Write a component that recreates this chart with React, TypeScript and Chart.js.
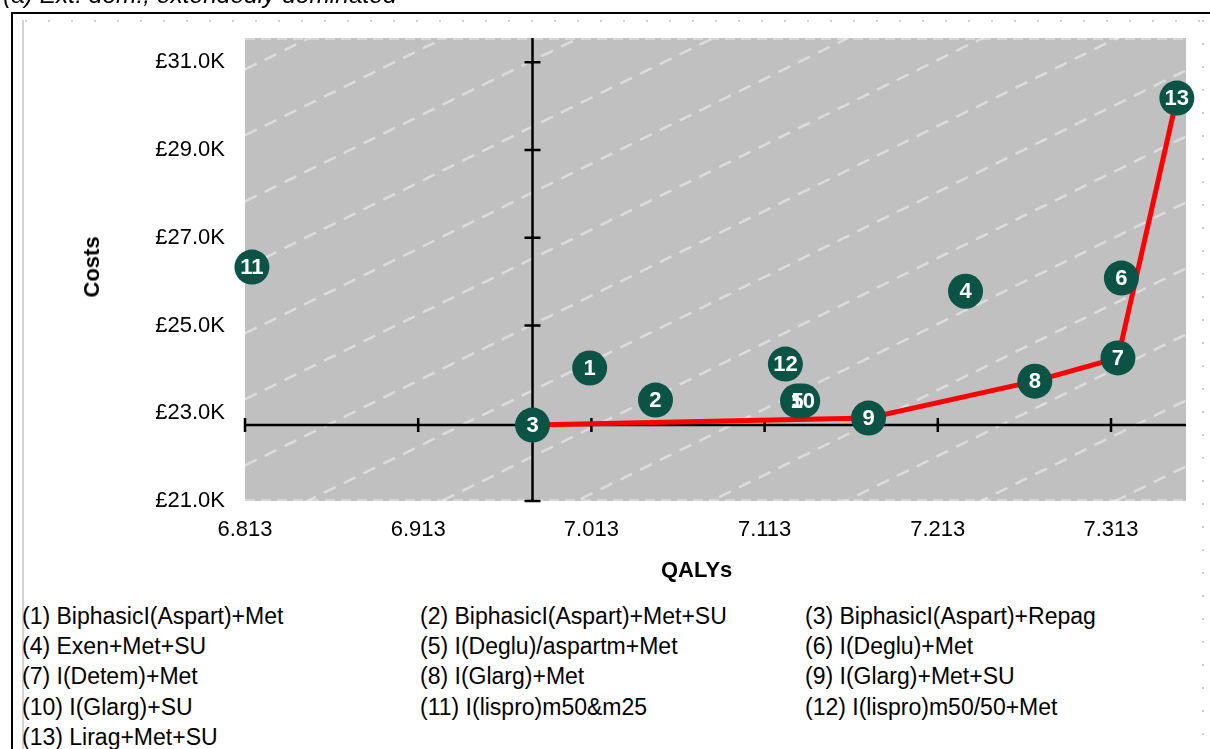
import React, { useEffect, useRef } from "react";
import { Chart, registerables } from "chart.js";

Chart.register(...registerables);

// ---- data ----
const pointLabels = ["1", "2", "3", "4", "5", "6", "7", "8", "9", "10", "11", "12", "13"];
const qalys = [7.012, 7.050, 6.979, 7.229, 7.132, 7.319, 7.317, 7.269, 7.173, 7.135, 6.817, 7.125, 7.351];
const costs = [24030, 23300, 22730, 25780, 23280, 26080, 24260, 23730, 22890, 23280, 26330, 24120, 30180];
const frontierIds = [3, 9, 8, 7, 13];
const xTickValues = [6.813, 6.913, 7.013, 7.113, 7.213, 7.313];
const yTickValues = [21000, 23000, 25000, 27000, 29000, 31000];
const xMin = 6.813;
const xMax = 7.3563;
const yMin = 21000;
const yMax = 31550;
const crossQaly = 6.979;
const crossCost = 22730;
const strategyNames = [
  "BiphasicI(Aspart)+Met",
  "BiphasicI(Aspart)+Met+SU",
  "BiphasicI(Aspart)+Repag",
  "Exen+Met+SU",
  "I(Deglu)/aspartm+Met",
  "I(Deglu)+Met",
  "I(Detem)+Met",
  "I(Glarg)+Met",
  "I(Glarg)+Met+SU",
  "I(Glarg)+SU",
  "I(lispro)m50&m25",
  "I(lispro)m50/50+Met",
  "Lirag+Met+SU",
];
const titleText = "(a) Ext. dom., extendedly dominated";
const xTitle = "QALYs";
const yTitle = "Costs";

const FONT = "'Liberation Sans', Arial, Helvetica, sans-serif";
const GREEN = "#0b5345";

const backgroundPlugin = {
  id: "hatchBackground",
  beforeDraw(chart: any) {
    const { ctx, chartArea: a } = chart;
    ctx.save();
    ctx.fillStyle = "#c0c0c0";
    ctx.fillRect(a.left, a.top, a.right - a.left, a.bottom - a.top);
    ctx.beginPath();
    ctx.rect(a.left, a.top, a.right - a.left, a.bottom - a.top);
    ctx.clip();
    ctx.strokeStyle = "rgba(255,255,255,0.45)";
    ctx.lineWidth = 2.5;
    ctx.setLineDash([13, 9]);
    const slope = 0.49;
    const spacing = 66;
    const ax = 250;
    const ay = 463;
    for (let k = -15; k < 25; k++) {
      const y0 = ay + spacing * k;
      ctx.beginPath();
      ctx.moveTo(a.left, y0 - slope * (a.left - ax));
      ctx.lineTo(a.right, y0 - slope * (a.right - ax));
      ctx.stroke();
    }
    ctx.restore();
    ctx.save();
    ctx.strokeStyle = "rgba(255,255,255,0.35)";
    ctx.lineWidth = 2;
    ctx.setLineDash([10, 6]);
    ctx.beginPath();
    ctx.moveTo(a.left, a.top + 1);
    ctx.lineTo(a.right, a.top + 1);
    ctx.moveTo(a.left, a.bottom - 1);
    ctx.lineTo(a.right, a.bottom - 1);
    ctx.stroke();
    ctx.restore();
  },
};

const crossAxesPlugin = {
  id: "crossAxes",
  beforeDatasetsDraw(chart: any) {
    const { ctx, chartArea: a, scales } = chart;
    const xs = scales.x;
    const ys = scales.y;
    const cx = xs.getPixelForValue(crossQaly);
    const cy = ys.getPixelForValue(crossCost);
    ctx.save();
    ctx.strokeStyle = "#000";
    ctx.lineWidth = 2.5;
    ctx.beginPath();
    ctx.moveTo(a.left, cy);
    ctx.lineTo(a.right, cy);
    ctx.moveTo(cx, a.top);
    ctx.lineTo(cx, a.bottom);
    xTickValues.forEach((v) => {
      const px = xs.getPixelForValue(v);
      ctx.moveTo(px, cy - 7);
      ctx.lineTo(px, cy + 7);
    });
    yTickValues.forEach((v) => {
      const py = ys.getPixelForValue(v);
      ctx.moveTo(cx - 8, py);
      ctx.lineTo(cx + 8, py);
    });
    ctx.stroke();
    ctx.restore();
  },
};

const pointLabelPlugin = {
  id: "pointLabels",
  afterDatasetsDraw(chart: any) {
    const { ctx } = chart;
    const meta = chart.getDatasetMeta(0);
    ctx.save();
    ctx.fillStyle = "#ffffff";
    ctx.font = `bold 22px ${FONT}`;
    ctx.textAlign = "center";
    ctx.textBaseline = "middle";
    meta.data.forEach((el: any, i: number) => {
      ctx.fillText(pointLabels[i], el.x, el.y + 1);
    });
    ctx.restore();
  },
};

function ChartCanvas() {
  const ref = useRef<HTMLCanvasElement | null>(null);
  useEffect(() => {
    if (!ref.current) return;
    const points = qalys.map((q, i) => ({ x: q, y: costs[i] }));
    const frontier = frontierIds.map((id) => ({ x: qalys[id - 1], y: costs[id - 1] }));
    const chart = new Chart(ref.current, {
      type: "scatter",
      data: {
        datasets: [
          {
            label: "Strategies",
            data: points,
            pointRadius: 17.5,
            pointHoverRadius: 17.5,
            backgroundColor: GREEN,
            borderWidth: 0,
            clip: false as any,
          },
          {
            label: "Frontier",
            data: frontier,
            showLine: true,
            borderColor: "#ff0000",
            borderWidth: 5,
            pointRadius: 0,
            fill: false,
          } as any,
        ],
      },
      options: {
        animation: false,
        responsive: false,
        devicePixelRatio: 1,
        events: [],
        layout: { padding: { left: 0, right: 24, top: 38, bottom: 0 } },
        plugins: {
          legend: { display: false },
          tooltip: { enabled: false },
          title: { display: false },
        },
        scales: {
          x: {
            type: "linear",
            min: xMin,
            max: xMax,
            grid: { display: false, drawTicks: false },
            border: { display: false },
            afterBuildTicks: (s: any) => {
              s.ticks = xTickValues.map((v) => ({ value: v }));
            },
            afterFit: (s: any) => {
              s.height = 59;
            },
            ticks: {
              autoSkip: false,
              maxRotation: 0,
              padding: 16,
              color: "#000",
              font: { family: FONT, size: 22 },
              callback: (v: any) => Number(v).toFixed(3),
            },
          },
          y: {
            type: "linear",
            min: yMin,
            max: yMax,
            grid: { display: false, drawTicks: false },
            border: { display: false },
            afterBuildTicks: (s: any) => {
              s.ticks = yTickValues.map((v) => ({ value: v }));
            },
            afterFit: (s: any) => {
              s.width = 245;
            },
            ticks: {
              autoSkip: false,
              padding: 20,
              color: "#000",
              font: { family: FONT, size: 22 },
              callback: (v: any) => "£" + (Number(v) / 1000).toFixed(1) + "K",
            },
          },
        },
      },
      plugins: [backgroundPlugin, crossAxesPlugin, pointLabelPlugin],
    });
    return () => chart.destroy();
  }, []);
  return (
    <canvas
      ref={ref}
      width={1210}
      height={560}
      style={{ position: "absolute", left: 0, top: 0, width: 1210, height: 560 }}
    />
  );
}

export default function App() {
  const colX = [22, 420, 805];
  const rowBase = [624, 654, 684, 715, 745];
  return (
    <div
      style={{
        position: "absolute",
        left: 0,
        top: 0,
        width: 1210,
        height: 749,
        overflow: "hidden",
        background: "#fff",
        fontFamily: FONT,
      }}
    >
      {/* outer frame */}
      <div
        style={{
          position: "absolute",
          left: 11,
          top: 12,
          width: 1400,
          height: 900,
          border: "2.5px solid #000",
          boxSizing: "border-box",
        }}
      />
      {/* faint inner chart-area outline */}
      <div
        style={{
          position: "absolute",
          left: 22,
          top: 20,
          width: 2,
          height: 800,
          background: "#d4d4d4",
        }}
      />
      <div
        style={{
          position: "absolute",
          left: 25,
          top: 20,
          width: 1178,
          height: 2,
          background: "repeating-linear-gradient(to right, #d0d0d0 0 2px, transparent 2px 23px)",
        }}
      />
      <div
        style={{
          position: "absolute",
          left: 1202,
          top: 20,
          width: 2,
          height: 800,
          background: "repeating-linear-gradient(to bottom, #cccccc 0 2px, transparent 2px 23px)",
        }}
      />
      <ChartCanvas />
      {/* title (clipped at top) */}
      <div
        style={{
          position: "absolute",
          left: 3,
          top: -17,
          fontSize: 24.5,
          lineHeight: "24px",
          fontStyle: "italic",
          whiteSpace: "nowrap",
          color: "#000",
        }}
      >
        {titleText}
      </div>
      {/* axis titles */}
      <div
        style={{
          position: "absolute",
          left: 661,
          top: 578 - 18.6,
          fontSize: 22,
          lineHeight: "22px",
          fontWeight: "bold",
          whiteSpace: "nowrap",
          color: "#000",
        }}
      >
        {xTitle}
      </div>
      <div
        style={{
          position: "absolute",
          left: 92,
          top: 267,
          transform: "translate(-50%, -50%) rotate(-90deg)",
          fontSize: 22,
          lineHeight: "22px",
          fontWeight: "bold",
          whiteSpace: "nowrap",
          color: "#000",
        }}
      >
        {yTitle}
      </div>
      {/* legend of strategies */}
      {strategyNames.map((name, i) => {
        const col = i % 3;
        const row = Math.floor(i / 3);
        return (
          <div
            key={i}
            style={{
              position: "absolute",
              left: colX[col],
              top: rowBase[row] - 19.2,
              fontSize: 23,
              lineHeight: "23px",
              whiteSpace: "nowrap",
              color: "#000",
            }}
          >
            {`(${i + 1}) ${name}`}
          </div>
        );
      })}
    </div>
  );
}
